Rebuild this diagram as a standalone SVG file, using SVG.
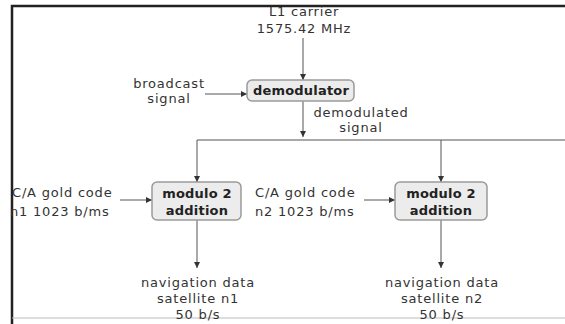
<svg xmlns="http://www.w3.org/2000/svg" width="565" height="324" viewBox="0 0 565 324">
<defs>
<marker id="ah" viewBox="0 0 10 10" refX="10" refY="5" markerWidth="6" markerHeight="6" orient="auto" markerUnits="userSpaceOnUse">
<path d="M0,0 L10,5 L0,10 z" fill="#333"/>
</marker>
<style>
text{font-family:"DejaVu Sans",sans-serif;font-size:13px;fill:#333;text-anchor:middle;letter-spacing:0.8px}
.l{text-anchor:start}
.b{font-weight:bold;fill:#222;letter-spacing:0.2px}
.box{fill:#ececec;stroke:#9a9a9a;stroke-width:1.5}
.c{stroke:#555;stroke-width:1;fill:none}
.a{marker-end:url(#ah)}
</style>
</defs>
<rect x="0" y="0" width="565" height="324" fill="#fff"/>
<path d="M12,324 L12,6 L565,6" fill="none" stroke="#222" stroke-width="2.5"/>
<line x1="12" y1="318" x2="565" y2="318" stroke="#bbb" stroke-width="1"/>
<g id="connectors">
<line class="c a" x1="303" y1="38" x2="303" y2="80"/>
<line class="c a" x1="205" y1="94" x2="247" y2="94"/>
<line class="c a" x1="303" y1="101" x2="303" y2="137"/>
<line class="c" x1="197" y1="140" x2="565" y2="140"/>
<line class="c a" x1="197" y1="140" x2="197" y2="182"/>
<line class="c a" x1="441" y1="140" x2="441" y2="182"/>
<line class="c a" x1="120" y1="200" x2="152" y2="200"/>
<line class="c a" x1="364" y1="200" x2="395" y2="200"/>
<line class="c a" x1="197" y1="220" x2="197" y2="268"/>
<line class="c a" x1="441" y1="220" x2="441" y2="268"/>
</g>
<g id="l1carrier">
<text x="304" y="16">L1 carrier</text>
<text x="304" y="33">1575.42 MHz</text>
</g>
<g id="broadcast">
<text x="169" y="88">broadcast</text>
<text x="169" y="103">signal</text>
</g>
<g id="demodulator">
<rect class="box" x="247" y="80" width="107" height="21" rx="5"/>
<text class="b" x="301" y="95">demodulator</text>
</g>
<g id="demodsignal">
<text x="361" y="117">demodulated</text>
<text x="361" y="132">signal</text>
</g>
<g id="mod1">
<rect class="box" x="152" y="182" width="89" height="38" rx="5"/>
<text class="b" x="197" y="198">modulo 2</text>
<text class="b" x="197" y="215">addition</text>
</g>
<g id="mod2">
<rect class="box" x="395" y="182" width="92" height="38" rx="5"/>
<text class="b" x="441" y="198">modulo 2</text>
<text class="b" x="441" y="215">addition</text>
</g>
<g id="ca1">
<text class="l" x="12" y="197">C/A gold code</text>
<text class="l" x="10" y="216">n1 1023 b/ms</text>
</g>
<g id="ca2">
<text class="l" x="255" y="197">C/A gold code</text>
<text class="l" x="255" y="216">n2 1023 b/ms</text>
</g>
<g id="nav1">
<text x="198" y="287">navigation data</text>
<text x="198" y="303">satellite n1</text>
<text x="198" y="319">50 b/s</text>
</g>
<g id="nav2">
<text x="442" y="287">navigation data</text>
<text x="442" y="303">satellite n2</text>
<text x="442" y="319">50 b/s</text>
</g>
</svg>
